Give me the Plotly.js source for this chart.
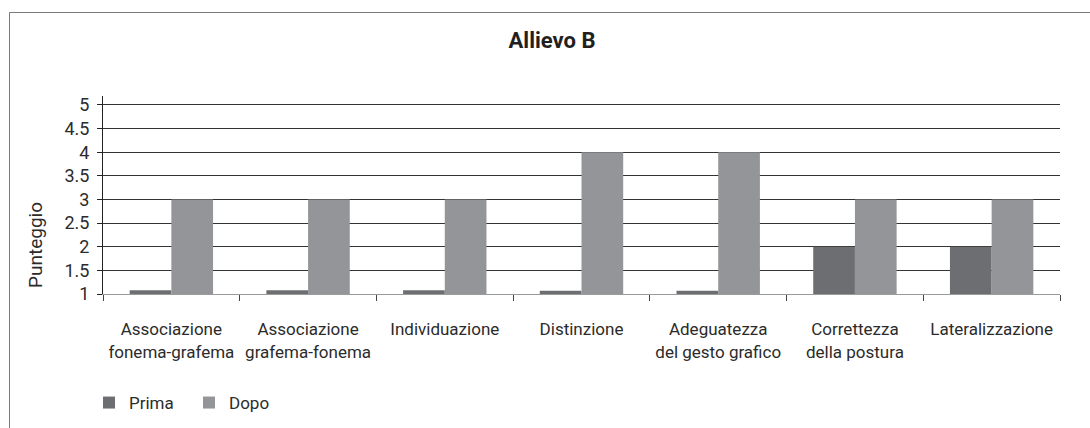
<!DOCTYPE html>
<html>
<head>
<meta charset="utf-8">
<script src="https://cdn.plot.ly/plotly-3.0.1.min.js"></script>
<style>
html,body{margin:0;padding:0;background:#fff;}
#chart{width:1090px;height:428px;}
</style>
</head>
<body>
<div id="chart"></div>
<script>
const categories = ["Associazione<br>fonema-grafema", "Associazione<br>grafema-fonema", "Individuazione", "Distinzione", "Adeguatezza<br>del gesto grafico", "Correttezza<br>della postura", "Lateralizzazione"];
const prima = [1.08, 1.08, 1.08, 1.07, 1.07, 2, 2];
const dopo = [3, 3, 3, 4, 4, 3, 3];
const seriesNames = ["Prima", "Dopo"];
const chartTitle = "Allievo B";
const yTitle = "Punteggio";

const W = 1090, H = 428;
const mL = 103, mR = 30, mT = 96, mB = 134;
const pw = W - mL - mR, ph = H - mT - mB;
const px = x => (x - mL) / pw;
const py = y => (H - mB - y) / ph;

const FONT = "Roboto, 'Liberation Sans', sans-serif";
const TXT = "#2b2b2b";

const traces = [
  {type: "bar", name: seriesNames[0], x: categories, y: prima, marker: {color: "#6d6e71"}},
  {type: "bar", name: seriesNames[1], x: categories, y: dopo, marker: {color: "#939598"}}
];

const layout = {
  width: W, height: H,
  margin: {l: mL, r: mR, t: mT, b: mB, pad: 0, autoexpand: false},
  paper_bgcolor: "#fff", plot_bgcolor: "#fff",
  font: {family: FONT, size: 17, color: TXT},
  barmode: "group", bargap: 0.39, bargroupgap: 0,
  title: {text: "<b>" + chartTitle + "</b>", font: {family: FONT, size: 22, color: "#231f20"},
          xref: "container", x: 552 / W, xanchor: "center", yref: "container", y: 1 - 40 / H, yanchor: "middle"},
  xaxis: {type: "category", showline: true, linecolor: "#9a9a9a", linewidth: 1,
          ticks: "outside", tickson: "boundaries", ticklen: 6, tickcolor: "#444", tickwidth: 1, tickangle: 0,
          ticklabelstandoff: 20, showgrid: false, tickfont: {family: FONT, size: 17, color: TXT}, fixedrange: true},
  yaxis: {range: [1, 5.19], dtick: 0.5, tick0: 1, showline: true, linecolor: "#222", linewidth: 1,
          ticks: "outside", ticklen: 5, tickcolor: "#222", showgrid: true, gridcolor: "#333", gridwidth: 1,
          zeroline: false, tickfont: {family: FONT, size: 18, color: TXT}, ticklabelstandoff: 4, fixedrange: true},
  legend: {orientation: "h", x: px(89), xanchor: "left", y: py(403), yanchor: "middle",
           font: {family: FONT, size: 17, color: TXT}, entrywidth: 55, bgcolor: "rgba(0,0,0,0)"},
  annotations: [
    {text: yTitle, textangle: -90, xref: "paper", yref: "paper", x: px(35), y: py(245),
     xanchor: "center", yanchor: "middle", showarrow: false, font: {family: FONT, size: 19, color: TXT}}
  ],
  shapes: [
    {type: "line", xref: "paper", yref: "paper", x0: px(9.5), x1: px(W + 5), y0: py(12.5), y1: py(12.5), line: {color: "#7a7a7a", width: 1}},
    {type: "line", xref: "paper", yref: "paper", x0: px(9.5), x1: px(9.5), y0: py(12.5), y1: py(H + 5), line: {color: "#7a7a7a", width: 1}}
  ],
  showlegend: true
};

Plotly.newPlot("chart", traces, layout, {displayModeBar: false, staticPlot: true});
</script>
</body>
</html>
